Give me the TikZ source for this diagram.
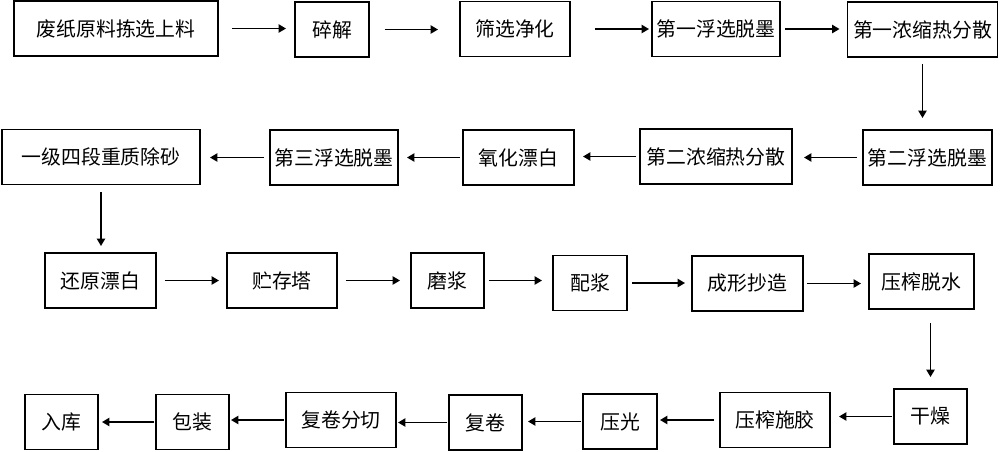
\documentclass[tikz,border=0pt]{standalone}
\usepackage{fontspec}
\setmainfont{Noto Sans CJK SC}
\usepackage{tikz}
\usetikzlibrary{arrows.meta}

\begin{document}
\begin{tikzpicture}[x=0.02cm, y=-0.02cm,
        stage/.style={draw, line width=1.1pt, minimum height=1.10cm, inner sep=0pt,
                      font=\fontsize{11.3pt}{13pt}\selectfont},
        flow/.style={line width=1.1pt, -{Triangle[length=4.2pt,width=4.6pt]}}]
        \useasboundingbox (0,0) rectangle (1000,451);
        % row 1
        \node [stage, minimum width=4.08cm] (sort)   at (116,28.5)   {废纸原料拣选上料};
        \node [stage, minimum width=1.48cm] (pulp)   at (332,29.5)   {碎解};
        \node [stage, minimum width=2.20cm] (screen) at (515,29)     {筛选净化};
        \node [stage, minimum width=2.56cm] (flota)  at (716,29)     {第一浮选脱墨};
        \node [stage, minimum width=3.00cm] (dispa)  at (922.5,29.5) {第一浓缩热分散};
        \draw [flow, shorten <=0.26cm, shorten >=0.16cm] (sort.east)   -- (sort.east -| pulp.west);     %
        \draw [flow, shorten <=0.30cm, shorten >=0.42cm] (pulp.east)   -- (pulp.east -| screen.west);   %
        \draw [flow, shorten <=0.48cm, shorten >=0.04cm] (screen.east) -- (screen.east -| flota.west);  %
        \draw [flow, shorten <=0.08cm, shorten >=0.14cm] (flota.east)  -- (flota.east -| dispa.west);   %
        % row 2
        \node [stage, minimum width=2.58cm] (flotb)  at (927.5,157.5) {第二浮选脱墨};
        \node [stage, minimum width=3.04cm] (dispb)  at (716,156.5)   {第二浓缩热分散};
        \node [stage, minimum width=2.22cm] (oxid)   at (518.5,157.5) {氧化漂白};
        \node [stage, minimum width=2.56cm] (flotc)  at (334,157.5)   {第三浮选脱墨};
        \node [stage, minimum width=3.96cm] (desand) at (101,157)     {一级四段重质除砂};
        \draw [flow, shorten <=0.12cm, shorten >=0.22cm] (dispa.south) -- (dispa.south |- flotb.north); %down
        \draw [flow, shorten <=0.10cm, shorten >=0.22cm] (flotb.west)  -- (flotb.west -| dispb.east);   %
        \draw [flow, shorten <=0.06cm, shorten >=0.16cm] (dispb.west)  -- (dispb.west -| oxid.east);    %
        \draw [flow, shorten <=0.04cm, shorten >=0.16cm] (oxid.west)   -- (oxid.west -| flotc.east);    %
        \draw [flow, shorten <=0.10cm, shorten >=0.18cm] (flotc.west)  -- (flotc.west -| desand.east);  %
        % row 3
        \node [stage, minimum width=2.22cm] (reduce) at (100.5,280.5) {还原漂白};
        \node [stage, minimum width=2.20cm] (tower)  at (282,280.5)   {贮存塔};
        \node [stage, minimum width=1.46cm] (refine) at (447.5,280.5) {磨浆};
        \node [stage, minimum width=1.48cm] (mix)    at (590,283)     {配浆};
        \node [stage, minimum width=2.22cm] (form)   at (747.5,283.5) {成形抄造};
        \node [stage, minimum width=2.10cm] (press)  at (921.5,281.5) {压榨脱水};
        \draw [flow, shorten <=0.14cm, shorten >=0.12cm] (desand.south) -- (desand.south |- reduce.north); %down
        \draw [flow, shorten <=0.16cm, shorten >=0.14cm] (reduce.east) -- (reduce.east -| tower.west);  %
        \draw [flow, shorten <=0.16cm, shorten >=0.20cm] (tower.east)  -- (tower.east -| refine.west);  %
        \draw [flow, shorten <=0.08cm, shorten >=0.20cm] (refine.east) -- (refine.east -| mix.west);    %
        \draw [flow, shorten <=0.08cm, shorten >=0.12cm] (mix.east)    -- (mix.east -| form.west);      %
        \draw [flow, shorten <=0.06cm, shorten >=0.14cm] (form.east)   -- (form.east -| press.west);    %
        % row 4
        \node [stage, minimum width=1.46cm] (dry)    at (930.5,416.5) {干燥};
        \node [stage, minimum width=2.20cm] (size)   at (775,420)     {压榨施胶};
        \node [stage, minimum width=1.48cm] (calend) at (620,421.5)   {压光};
        \node [stage, minimum width=1.46cm] (rewind) at (485.5,422.5) {复卷};
        \node [stage, minimum width=2.20cm] (slit)   at (341,420)     {复卷分切};
        \node [stage, minimum width=1.46cm] (pack)   at (192.5,422)   {包装};
        \node [stage, minimum width=1.46cm] (store)  at (61.5,422)    {入库};
        \draw [flow, shorten <=0.26cm, shorten >=0.22cm] (press.south -| dry.north) -- (dry.north);     %down
        \draw [flow, shorten <=0.02cm, shorten >=0.16cm] (dry.west)    -- (dry.west -| size.east);      %
        \draw [flow, shorten <=0.10cm, shorten >=0.04cm] (size.west)   -- (size.west -| calend.east);   %
        \draw [flow, shorten <=0.02cm, shorten >=0.10cm] (calend.west) -- (calend.west -| rewind.east); %
        \draw [flow, shorten <=0.02cm, shorten >=0.02cm] (rewind.west) -- (rewind.west -| slit.east);   %
        \draw [flow, shorten <=0.02cm, shorten >=0.02cm] (slit.west)   -- (slit.west -| pack.east);     %
        \draw [flow, shorten <=0.02cm, shorten >=0.06cm] (pack.west)   -- (pack.west -| store.east);    %
\end{tikzpicture}
\end{document}
